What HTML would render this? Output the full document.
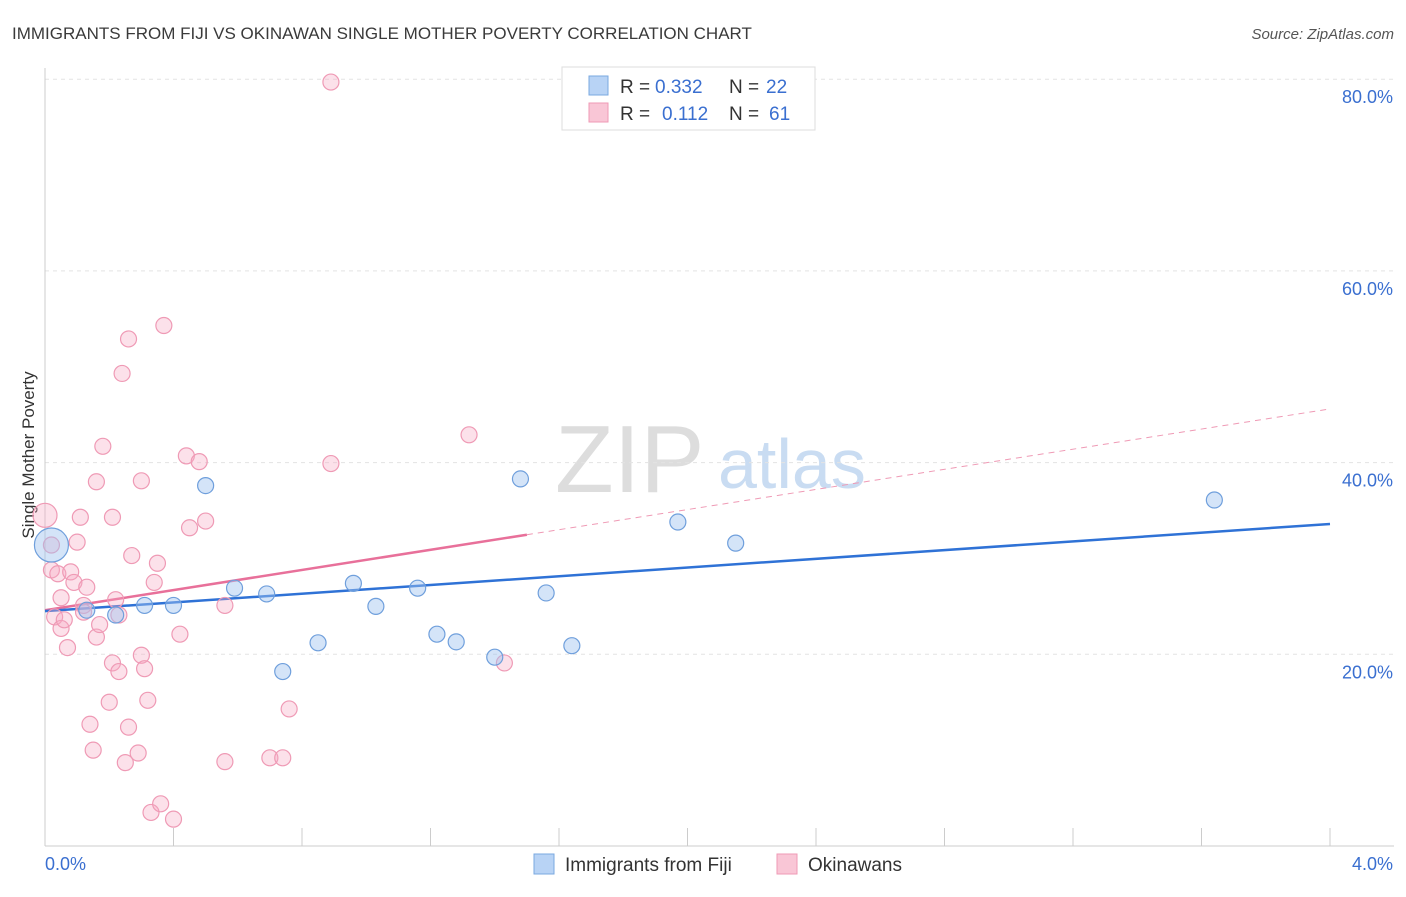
<!DOCTYPE html>
<html><head><meta charset="utf-8"><style>
body{margin:0;background:#fff;font-family:"Liberation Sans",sans-serif;}
svg text{font-family:"Liberation Sans",sans-serif;}
</style></head><body>
<svg id="chart" width="1406" height="892">
<text x="12" y="39" font-size="17" fill="#3a3a3a">IMMIGRANTS FROM FIJI VS OKINAWAN SINGLE MOTHER POVERTY CORRELATION CHART</text>
<text x="1394" y="39" font-size="15" fill="#555" font-style="italic" text-anchor="end">Source: ZipAtlas.com</text>
<text x="555" y="492" font-size="96" fill="#ddd" font-family="Liberation Serif">ZIP</text>
<text x="718" y="488" font-size="70" fill="#c9dcf2">atlas</text>
<text x="34" y="455" font-size="17" fill="#333" text-anchor="middle" transform="rotate(-90 34 455)">Single Mother Poverty</text>
<g id="grid"></g><g id="axes"></g><g id="lines"></g><g id="points"></g>
<g>
<rect x="562" y="67" width="253" height="63" fill="#fff" stroke="#ddd"/>
<rect x="589" y="76" width="19" height="19" fill="#b8d3f5" stroke="#7aa8e0"/>
<rect x="589" y="103" width="19" height="19" fill="#f9c6d6" stroke="#ef9ab5"/>
<text x="620" y="93" font-size="19" fill="#333">R =</text>
<text x="655" y="93" font-size="19" fill="#3a6fd0">0.332</text>
<text x="729" y="93" font-size="19" fill="#333">N =</text>
<text x="766" y="93" font-size="19" fill="#3a6fd0">22</text>
<text x="620" y="120" font-size="19" fill="#333">R =</text>
<text x="662" y="120" font-size="19" fill="#3a6fd0">0.112</text>
<text x="729" y="120" font-size="19" fill="#333">N =</text>
<text x="769" y="120" font-size="19" fill="#3a6fd0">61</text>
</g>
<g>
<rect x="534" y="854" width="20" height="20" fill="#b8d3f5" stroke="#7aa8e0"/>
<text x="565" y="871" font-size="19" fill="#333">Immigrants from Fiji</text>
<rect x="777" y="854" width="20" height="20" fill="#f9c6d6" stroke="#ef9ab5"/>
<text x="808" y="871" font-size="19" fill="#333">Okinawans</text>
</g>
</svg>
<script>
const fijiX=[0.02,0.22,0.31,0.40,0.50,0.59,0.69,0.74,0.85,0.96,1.03,1.16,1.22,1.28,1.40,1.48,1.56,1.64,1.97,2.15,3.64,0.13];
const fijiY=[31.4,24.1,25.1,25.1,37.6,26.9,26.3,18.2,21.2,27.4,25.0,26.9,22.1,21.3,19.7,38.3,26.4,20.9,33.8,31.6,36.1,24.6];
const okiX=[0,0.02,0.02,0.03,0.04,0.05,0.05,0.06,0.07,0.08,0.09,0.10,0.11,0.12,0.12,0.13,0.14,0.15,0.16,0.16,0.17,0.18,0.20,0.21,0.21,0.22,0.23,0.23,0.24,0.25,0.26,0.26,0.27,0.29,0.30,0.30,0.31,0.32,0.33,0.34,0.35,0.36,0.37,0.40,0.42,0.44,0.45,0.48,0.50,0.56,0.56,0.70,0.74,0.76,0.89,0.89,1.32,1.43];
const okiY=[34.5,31.4,28.8,23.9,28.4,22.7,25.9,23.6,20.7,28.6,27.5,31.7,34.3,25.1,24.4,27.0,12.7,10.0,38.0,21.8,23.1,41.7,15.0,19.1,34.3,25.7,24.1,18.2,49.3,8.7,12.4,52.9,30.3,9.7,19.9,38.1,18.5,15.2,3.5,27.5,29.5,4.4,54.3,2.8,22.1,40.7,33.2,40.1,33.9,25.1,8.8,9.2,9.2,14.3,39.9,79.7,42.9,19.1];
const fijiTrend=[24.5,33.6];
const okiTrend=[24.6,45.6];
const okiSolidEnd=1.5;
const yTicks=[20,40,60,80];
const yTickLabels=["20.0%","40.0%","60.0%","80.0%"];
const xTicks=[0,0.4,0.8,1.2,1.6,2.0,2.4,2.8,3.2,3.6,4.0];
const NS="http://www.w3.org/2000/svg";
const X=v=>45+v/4*1285, Y=v=>846-v/20*191.7;
function mk(p,t,a){const e=document.createElementNS(NS,t);for(const k in a)e.setAttribute(k,a[k]);document.getElementById(p).appendChild(e);return e;}
yTicks.forEach((t,i)=>{
 const l=mk('grid','line',{x1:45,x2:1394,y1:Y(t),y2:Y(t),stroke:'#e3e3e3','stroke-dasharray':'4,4'});
 
 
 const tx=mk('grid','text',{x:1393,y:Y(t)+24,'font-size':18,fill:'#3a6fd0','text-anchor':'end'});tx.textContent=yTickLabels[i];
 
 
});
const ax=mk('axes','line',{x1:45,x2:45,y1:68,y2:846,stroke:'#ccc'});


const bx=mk('axes','line',{x1:45,x2:1394,y1:846,y2:846,stroke:'#ccc'});


xTicks.forEach(t=>{const l=mk('axes','line',{x1:X(t),x2:X(t),y1:828,y2:846,stroke:'#ccc'});
 
 });
const x0=mk('axes','text',{x:45,y:870,'font-size':18,fill:'#3a6fd0'});x0.textContent='0.0%';


const x1=mk('axes','text',{x:1393,y:870,'font-size':18,fill:'#3a6fd0','text-anchor':'end'});x1.textContent='4.0%';


const at=(tr,x)=>tr[0]+(tr[1]-tr[0])*x/4;
const od=mk('lines','line',{x1:X(okiSolidEnd),y1:Y(at(okiTrend,okiSolidEnd)),x2:X(4),y2:Y(okiTrend[1]),stroke:'#ef9ab5','stroke-dasharray':'6,5','stroke-width':1});


const os=mk('lines','line',{x1:X(0),y1:Y(okiTrend[0]),x2:X(okiSolidEnd),y2:Y(at(okiTrend,okiSolidEnd)),stroke:'#e8709a','stroke-width':2.5});


const fl=mk('lines','line',{x1:X(0),y1:Y(fijiTrend[0]),x2:X(4),y2:Y(fijiTrend[1]),stroke:'#2f72d6','stroke-width':2.5});


okiX.forEach((x,i)=>{const c=mk('points','circle',{cx:X(x),cy:Y(okiY[i]),r:i==0?12:8,fill:'rgba(245,170,195,0.35)',stroke:'#ef9ab5','stroke-width':1.2});
 
 });
fijiX.forEach((x,i)=>{const c=mk('points','circle',{cx:X(x),cy:Y(fijiY[i]),r:i==0?17:8,fill:'rgba(160,195,240,0.45)',stroke:'#6f9fdc','stroke-width':1.2});
 
 });
</script>
</body></html>
